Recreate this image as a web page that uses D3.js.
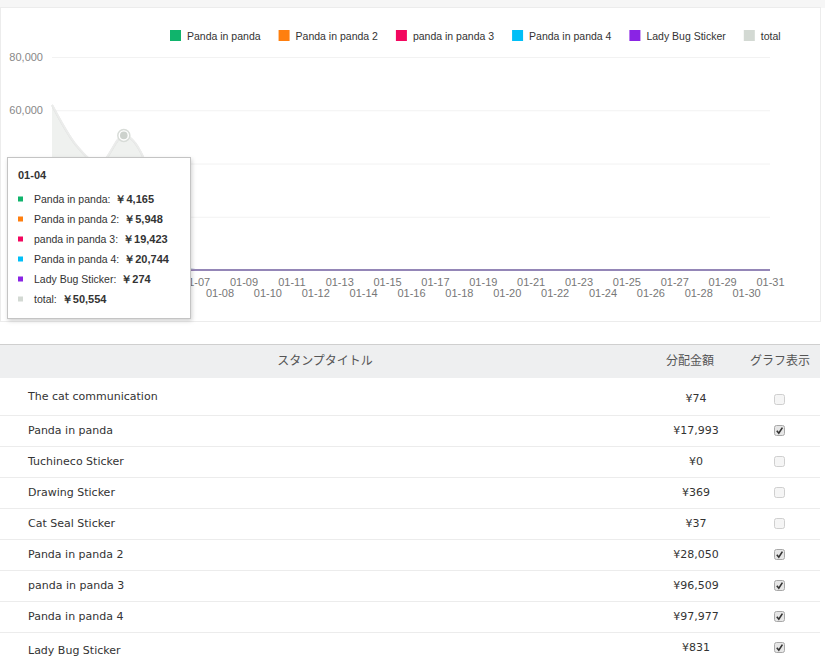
<!DOCTYPE html>
<html>
<head>
<meta charset="utf-8">
<script src="https://cdn.jsdelivr.net/npm/d3@7"></script>
<style>
body{margin:0;background:#fff;}
svg{display:block;}
</style>
</head>
<body>
<svg id="chart"></svg>
<script>
// days of the month shown on x axis
var days = ["01-01","01-02","01-03","01-04","01-05","01-06","01-07","01-08","01-09","01-10",
  "01-11","01-12","01-13","01-14","01-15","01-16","01-17","01-18","01-19","01-20",
  "01-21","01-22","01-23","01-24","01-25","01-26","01-27","01-28","01-29","01-30","01-31"];

var seriesNames = ["Panda in panda","Panda in panda 2","panda in panda 3","Panda in panda 4","Lady Bug Sticker"];
var seriesColors = ["#10b46c","#ff7f0e","#f3075f","#00bff7","#8a24e4"];
var totalColor = "#d3d9d3";

var pandaValues  = [4500,3400,2900,4165,2700,228,0,0,0,0,0,0,0,0,0,0,0,0,0,0,0,0,0,0,0,0,0,0,0,0,0];
var panda2Values = [7100,5400,4700,5948,4500,202,0,0,0,0,0,0,0,0,0,0,0,0,0,0,0,0,0,0,0,0,0,0,0,0,0];
var panda3Values = [25000,19000,16200,19423,15500,986,0,0,0,0,0,0,0,0,0,0,0,0,0,0,0,0,0,0,0,0,0,0,0,0,0];
var panda4Values = [25200,19050,16100,20744,15500,1083,0,0,0,0,0,0,0,0,0,0,0,0,0,0,0,0,0,0,0,0,0,0,0,0,0];
var ladyBugValues = [200,150,100,274,100,7,0,0,0,0,0,0,0,0,0,0,0,0,0,0,0,0,0,0,0,0,0,0,0,0,0];

var yTicks = [0,20000,40000,60000,80000];
var tooltipDay = "01-04";

// table
var stampTitles = ["The cat communication","Panda in panda","Tuchineco Sticker","Drawing Sticker",
  "Cat Seal Sticker","Panda in panda 2","panda in panda 3","Panda in panda 4","Lady Bug Sticker"];
var stampAmounts = [74,17993,0,369,37,28050,96509,97977,831];
var graphShown = [false,true,false,false,false,true,true,true,true];
var headers = ["スタンプタイトル","分配金額","グラフ表示"];

var allSeries = [pandaValues,panda2Values,panda3Values,panda4Values,ladyBugValues];
var totals = days.map(function(d,i){
  return d3.sum(allSeries,function(s){return s[i];});
});

var W = 825, H = 668;
var latin = "'Liberation Sans', Arial, sans-serif";
var tableFont = "'DejaVu Sans', Tahoma, sans-serif";
var cjk = "'Noto Sans CJK JP', sans-serif";

// tooltip box (left, top, width, height)
var tipBox = [7,157,183,161];

var svg = d3.select("#chart").attr("width",W).attr("height",H);

var defs = svg.append("defs");
var f = defs.append("filter").attr("id","shadow").attr("x","-10%").attr("y","-10%").attr("width","130%").attr("height","130%");
f.append("feDropShadow").attr("dx",1).attr("dy",2).attr("stdDeviation",2).attr("flood-color","#000").attr("flood-opacity",0.18);

// page background and panel
svg.append("rect").attr("x",0).attr("y",0).attr("width",W).attr("height",8).attr("fill","#f6f6f6");
svg.append("rect").attr("x",0.5).attr("y",7.5).attr("width",820).attr("height",314)
  .attr("fill","#fff").attr("stroke","#ececec");

var x = d3.scalePoint().domain(days).range([52,770]);
var y = d3.scaleLinear().domain([0,80000]).range([270,57]);

// grid
svg.append("g").selectAll("line").data(yTicks).enter().append("line")
  .attr("x1",52).attr("x2",770)
  .attr("y1",function(d){return y(d)+0.5;})
  .attr("y2",function(d){return y(d)+0.5;})
  .attr("stroke","#f2f2f2");

// y axis (labels under the tooltip are not drawn)
var yAxis = svg.append("g").attr("transform","translate(52,0)")
  .call(d3.axisLeft(y).tickValues(yTicks).tickSize(0).tickPadding(9).tickFormat(d3.format(",")));
yAxis.select(".domain").remove();
yAxis.selectAll("text").attr("fill","#888").style("font-family",latin).style("font-size","11px");
yAxis.selectAll(".tick").filter(function(d){return y(d)>tipBox[1];}).remove();

// x axis, two rows of labels
var xAxis = svg.append("g").attr("transform","translate(0,270)")
  .call(d3.axisBottom(x).tickSize(0).tickPadding(8));
xAxis.select(".domain").remove();
xAxis.selectAll("text")
  .attr("fill","#777").style("font-family",latin).style("font-size","11px")
  .attr("dy",function(d,i){return i%2==0 ? "0.71em" : "1.71em";});
xAxis.selectAll(".tick").filter(function(d){return x(d)+14<tipBox[0]+tipBox[2];}).remove();

// total area
var area = d3.area()
  .x(function(d,i){return x(days[i]);})
  .y0(y(0))
  .y1(function(d){return y(d);})
  .curve(d3.curveMonotoneX);
var line = d3.line()
  .x(function(d,i){return x(days[i]);})
  .y(function(d){return y(d);})
  .curve(d3.curveMonotoneX);

// series lines
svg.append("g").selectAll("path").data(allSeries).enter().append("path")
  .attr("d",line)
  .attr("fill","none")
  .attr("stroke",function(d,i){return seriesColors[i];})
  .attr("stroke-width",2)
  .attr("stroke-opacity",0.5);

svg.append("path").datum(totals).attr("d",area)
  .attr("fill","#eceeec").attr("fill-opacity",0.85);
svg.append("path").datum(totals).attr("d",line)
  .attr("fill","none").attr("stroke","#a9ada9").attr("stroke-width",2).attr("stroke-opacity",0.55);
svg.append("path").datum(totals.slice(0,6)).attr("d",line)
  .attr("fill","none").attr("stroke","#fff").attr("stroke-width",2).attr("stroke-opacity",0.6);

// hover marker on total
var ti = days.indexOf(tooltipDay);
svg.append("circle").attr("cx",x(tooltipDay)).attr("cy",y(totals[ti])).attr("r",6)
  .attr("fill","#fff").attr("stroke","#d8dcd8").attr("stroke-width",1.5);
svg.append("circle").attr("cx",x(tooltipDay)).attr("cy",y(totals[ti])).attr("r",3.8)
  .attr("fill","#cdd2cd");

// legend
var legendNames = seriesNames.concat(["total"]);
var legendColors = seriesColors.concat([totalColor]);
var lx = 170;
var legend = svg.append("g");
legendNames.forEach(function(n,i){
  legend.append("rect").attr("x",lx).attr("y",30).attr("width",11).attr("height",11).attr("fill",legendColors[i]);
  var t = legend.append("text").attr("x",lx+17).attr("y",39.5).text(n)
    .attr("fill","#333").style("font-family",latin).style("font-size","10.5px");
  lx = lx + 17 + t.node().getComputedTextLength() + 18;
});

// tooltip
var tip = svg.append("g").attr("transform","translate("+tipBox[0]+","+tipBox[1]+")");
tip.append("rect").attr("x",0.5).attr("y",0.5).attr("width",tipBox[2]).attr("height",tipBox[3])
  .attr("fill","#fff").attr("stroke","#c4c4c4").attr("filter","url(#shadow)");
tip.append("text").attr("x",11).attr("y",22).text(tooltipDay)
  .attr("fill","#333").style("font-family",latin).style("font-size","11px").style("font-weight","bold");
var tipNames = seriesNames.concat(["total"]);
var tipValues = allSeries.map(function(s){return s[ti];}).concat([totals[ti]]);
tipNames.forEach(function(n,i){
  var cy = 42 + i*20;
  tip.append("rect").attr("x",11).attr("y",cy-2.5).attr("width",5).attr("height",5).attr("fill",legendColors[i]);
  var t = tip.append("text").attr("x",27).attr("y",cy+4)
    .attr("fill","#333").style("font-family",latin).style("font-size","10.5px");
  t.append("tspan").text(n+":");
  t.append("tspan").attr("dx",5).style("font-weight","bold").style("font-size","11px")
    .text("\uFFE5"+d3.format(",")(tipValues[i]));
});

// table
svg.append("line").attr("x1",0).attr("x2",820).attr("y1",344.5).attr("y2",344.5).attr("stroke","#cfcfcf");
svg.append("rect").attr("x",0).attr("y",345).attr("width",820).attr("height",33).attr("fill","#eeeff0");
var headerX = [325,690,780];
svg.append("g").selectAll("text").data(headers).enter().append("text")
  .attr("x",function(d,i){return headerX[i];})
  .attr("y",365)
  .attr("text-anchor","middle")
  .text(function(d){return d;})
  .attr("fill","#555").style("font-family",cjk).style("font-size","12px");

var last = stampTitles.length-1;
var rowY = d3.scaleBand().domain(d3.range(stampTitles.length)).range([384,384+31*stampTitles.length]);
var rows = svg.append("g").selectAll("g").data(stampTitles).enter().append("g")
  .attr("transform",function(d,i){return "translate(0,"+rowY(i)+")";});
rows.filter(function(d,i){return i<last;}).append("line")
  .attr("x1",0).attr("x2",820).attr("y1",31.5).attr("y2",31.5).attr("stroke","#ececec");
rows.append("text").attr("x",28).attr("y",function(d,i){return i==0?16:(i==last?22:19);})
  .text(function(d){return d;})
  .attr("fill","#333").style("font-family",tableFont).style("font-size","11px");
rows.append("text").attr("x",696).attr("y",function(d,i){return i==0?18:19;})
  .attr("text-anchor","middle")
  .text(function(d,i){return "¥"+d3.format(",")(stampAmounts[i]);})
  .attr("fill","#333").style("font-family",tableFont).style("font-size","11px");
rows.append("rect").attr("x",774.5).attr("y",10.5).attr("width",10).attr("height",10).attr("rx",2)
  .attr("fill",function(d,i){return graphShown[i]?"#e6e6e6":"#f5f5f5";})
  .attr("stroke",function(d,i){return graphShown[i]?"#a8a8a8":"#cfcfcf";});
rows.filter(function(d,i){return graphShown[i];}).append("path")
  .attr("d","M776.8,15.8 L778.8,18.2 L782.4,12.6")
  .attr("fill","none").attr("stroke","#333").attr("stroke-width",1.6);
</script>
</body>
</html>
